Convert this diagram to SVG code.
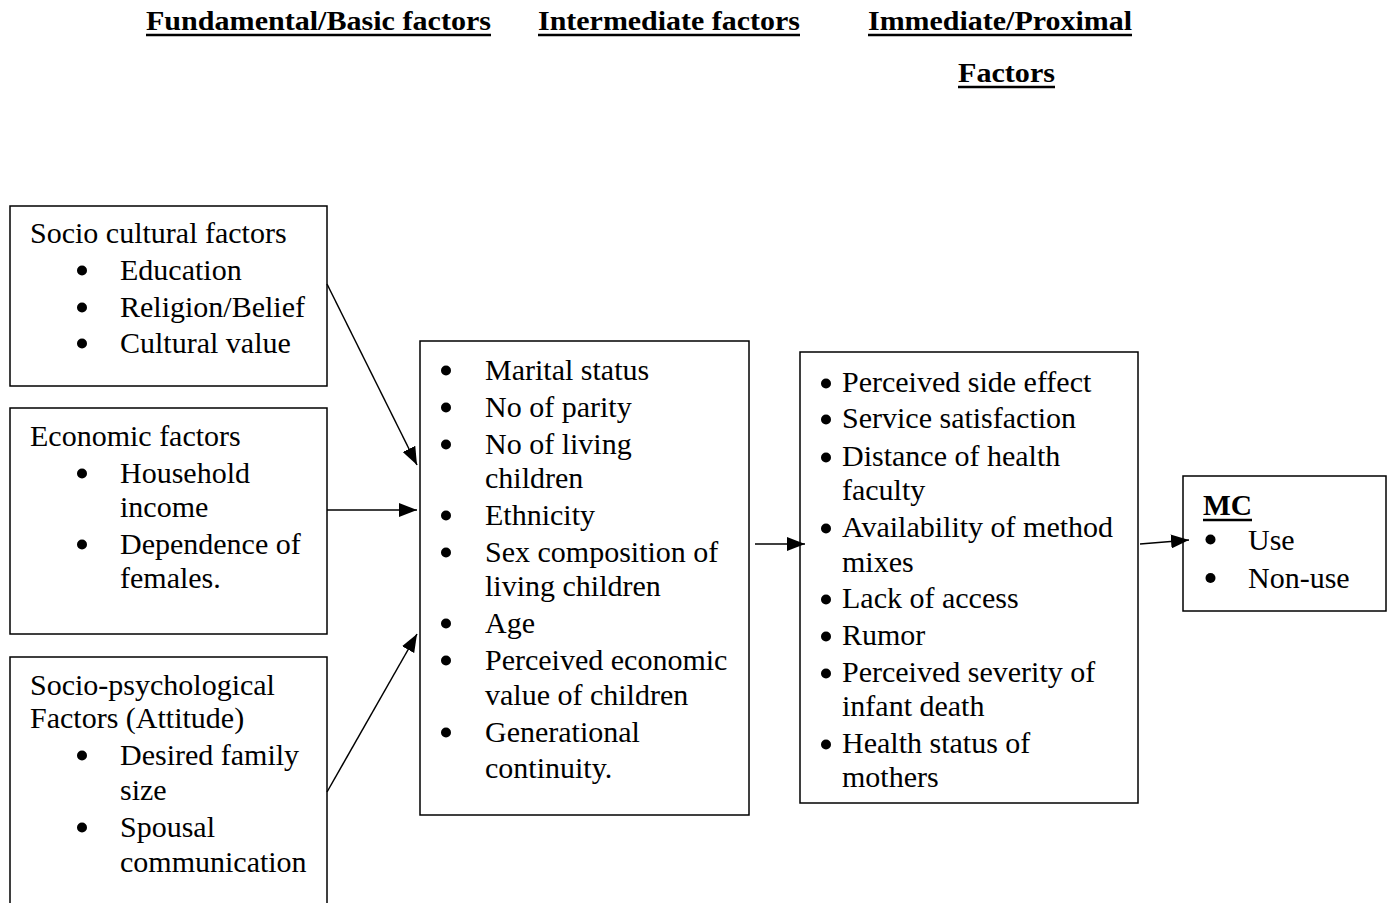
<svg xmlns="http://www.w3.org/2000/svg" width="1393" height="903" viewBox="0 0 1393 903">
<style>
text{font-family:"Liberation Serif","Times New Roman",serif;font-size:30px;fill:#000}
.h{font-weight:bold;font-size:27px}
.box{fill:#fff;stroke:#000;stroke-width:1.5}
.ul{stroke:#000;stroke-width:2.5}
.c{stroke:#000;stroke-width:1.5;fill:none;marker-end:url(#ah)}
circle{fill:#000}
</style>
<defs>
<marker id="ah" markerWidth="18" markerHeight="14" refX="18" refY="7" orient="auto" markerUnits="userSpaceOnUse">
<path d="M0,0 L18,7 L0,14 Z" fill="#000"/>
</marker>
</defs>
<rect width="1393" height="903" fill="#fff"/>
<g id="headers">
<text class="h" x="146" y="30" textLength="345" lengthAdjust="spacingAndGlyphs">Fundamental/Basic factors</text>
<line class="ul" x1="146" y1="35" x2="491" y2="35"/>
<text class="h" x="538" y="30" textLength="262" lengthAdjust="spacingAndGlyphs">Intermediate factors</text>
<line class="ul" x1="538" y1="35" x2="800" y2="35"/>
<text class="h" x="868" y="30" textLength="264" lengthAdjust="spacingAndGlyphs">Immediate/Proximal</text>
<line class="ul" x1="868" y1="35" x2="1132" y2="35"/>
<text class="h" x="958" y="82" textLength="97" lengthAdjust="spacingAndGlyphs">Factors</text>
<line class="ul" x1="958" y1="87" x2="1055" y2="87"/>
</g>
<g id="socio-cultural">
<rect class="box" x="10" y="206" width="317" height="180"/>
<text x="30" y="243">Socio cultural factors</text>
<circle cx="82" cy="270.5" r="5"/><text x="120" y="280">Education</text>
<circle cx="82" cy="307.5" r="5"/><text x="120" y="317">Religion/Belief</text>
<circle cx="82" cy="343.5" r="5"/><text x="120" y="353">Cultural value</text>
</g>
<g id="economic">
<rect class="box" x="10" y="408" width="317" height="226"/>
<text x="30" y="446">Economic factors</text>
<circle cx="82" cy="473.5" r="5"/><text x="120" y="483">Household</text>
<text x="120" y="517">income</text>
<circle cx="82" cy="544.5" r="5"/><text x="120" y="554">Dependence of</text>
<text x="120" y="588">females.</text>
</g>
<g id="socio-psychological">
<rect class="box" x="10" y="657" width="317" height="260"/>
<text x="30" y="695">Socio-psychological</text>
<text x="30" y="728">Factors (Attitude)</text>
<circle cx="82" cy="755.5" r="5"/><text x="120" y="765">Desired family</text>
<text x="120" y="800">size</text>
<circle cx="82" cy="827.5" r="5"/><text x="120" y="837">Spousal</text>
<text x="120" y="872">communication</text>
</g>
<g id="intermediate">
<rect class="box" x="420" y="341" width="329" height="474"/>
<circle cx="446" cy="370.5" r="5"/><text x="485" y="380">Marital status</text>
<circle cx="446" cy="407.5" r="5"/><text x="485" y="417">No of parity</text>
<circle cx="446" cy="444.5" r="5"/><text x="485" y="454">No of living</text>
<text x="485" y="488">children</text>
<circle cx="446" cy="515.5" r="5"/><text x="485" y="525">Ethnicity</text>
<circle cx="446" cy="552.5" r="5"/><text x="485" y="562">Sex composition of</text>
<text x="485" y="596">living children</text>
<circle cx="446" cy="623.5" r="5"/><text x="485" y="633">Age</text>
<circle cx="446" cy="660.5" r="5"/><text x="485" y="670">Perceived economic</text>
<text x="485" y="705">value of children</text>
<circle cx="446" cy="732.5" r="5"/><text x="485" y="742">Generational</text>
<text x="485" y="778">continuity.</text>
</g>
<g id="proximal">
<rect class="box" x="800" y="352" width="338" height="451"/>
<circle cx="826" cy="383.5" r="5"/><text x="842" y="392">Perceived side effect</text>
<circle cx="826" cy="419.5" r="5"/><text x="842" y="428">Service satisfaction</text>
<circle cx="826" cy="457.5" r="5"/><text x="842" y="466">Distance of health</text>
<text x="842" y="500">faculty</text>
<circle cx="826" cy="528.5" r="5"/><text x="842" y="537">Availability of method</text>
<text x="842" y="572">mixes</text>
<circle cx="826" cy="599.5" r="5"/><text x="842" y="608">Lack of access</text>
<circle cx="826" cy="636.5" r="5"/><text x="842" y="645">Rumor</text>
<circle cx="826" cy="673.5" r="5"/><text x="842" y="682">Perceived severity of</text>
<text x="842" y="716">infant death</text>
<circle cx="826" cy="744.5" r="5"/><text x="842" y="753">Health status of</text>
<text x="842" y="787">mothers</text>
</g>
<g id="mc">
<rect class="box" x="1183" y="476" width="203" height="135"/>
<text x="1203" y="515" font-weight="bold" textLength="49" lengthAdjust="spacingAndGlyphs">MC</text>
<line class="ul" x1="1203" y1="520" x2="1252" y2="520"/>
<circle cx="1210.5" cy="539.5" r="5"/><text x="1248" y="550">Use</text>
<circle cx="1210.5" cy="578" r="5"/><text x="1248" y="588">Non-use</text>
</g>
<g id="connectors">
<line class="c" x1="327" y1="284" x2="417" y2="465"/>
<line class="c" x1="327" y1="510" x2="417" y2="510"/>
<line class="c" x1="327" y1="792" x2="417" y2="634"/>
<line class="c" x1="755" y1="544" x2="805" y2="544"/>
<line class="c" x1="1140" y1="544" x2="1189" y2="540"/>
</g>
</svg>
